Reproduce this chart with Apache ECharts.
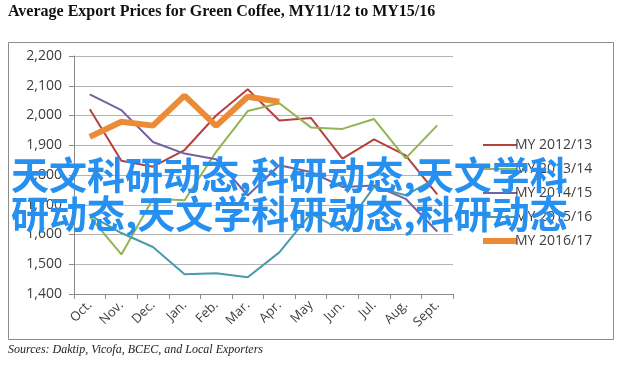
<!DOCTYPE html>
<html>
<head>
<meta charset="utf-8">
<script src="https://cdn.jsdelivr.net/npm/echarts@6/dist/echarts.min.js"></script>
<style>
html,body{margin:0;padding:0;background:#fff;}
#c{width:628px;height:372px;}
</style>
</head>
<body>
<div id="c"></div>
<script>
var months = ['Oct.','Nov.','Dec.','Jan.','Feb.','Mar.','Apr.','May','Jun.','Jul.','Aug.','Sept.'];
var yTicks = [1400,1500,1600,1700,1800,1900,2000,2100,2200];
var seriesNames = ['MY 2012/13','MY 2013/14','MY 2014/15','MY 2015/16','MY 2016/17'];
var my1213 = [2021,1848,1828,1884,2000,2088,1983,1992,1855,1920,1866,1735];
var my1314 = [1660,1533,1720,1715,1878,2015,2041,1960,1955,1988,1856,1967];
var my1415 = [2071,2018,1911,1872,1853,1731,1833,1810,1760,1765,1720,1610];
var my1516 = [1665,1605,1558,1466,1470,1456,1540,1670,1613,1760,1732,1790];
var my1617 = [1928,1979,1966,2067,1965,2063,2046];
var titleText = 'Average Export Prices for Green Coffee, MY11/12 to MY15/16';
var sourceText = 'Sources: Daktip, Vicofa, BCEC, and Local Exporters';
var watermark1 = '天文科研动态,科研动态,天文学科';
var watermark2 = '研动态,天文学科研动态,科研动态';

var colors = ['#B4413E','#93B452','#7560A0','#4A9BAA','#EC8A36'];
var allData = [my1213, my1314, my1415, my1516, my1617];

var chart = echarts.init(document.getElementById('c'), null, {renderer:'canvas'});
var series = allData.map(function(d,i){
  return {
    name: seriesNames[i], type:'line', data:d, symbol:'none', smooth:false,
    lineStyle:{color:colors[i], width: i===4 ? 6 : 2},
    itemStyle:{color:colors[i]},
    z: 2 + i
  };
});
var option = {
  animation:false,
  backgroundColor:'#fff',
  color: colors,
  grid:{left:74, right:175, top:56, bottom:78},
  xAxis:{
    type:'category', data:months, boundaryGap:true,
    axisLine:{lineStyle:{color:'#8a8a8a', width:1}},
    axisTick:{show:true, length:5, lineStyle:{color:'#8a8a8a'}},
    axisLabel:{rotate:45, fontFamily:'Open Sans', fontSize:13, color:'#404040', margin:9, interval:0}
  },
  yAxis:{
    type:'value', min:yTicks[0], max:yTicks[yTicks.length-1], interval:100,
    axisLine:{show:true, lineStyle:{color:'#8a8a8a'}},
    axisTick:{show:true, length:5, lineStyle:{color:'#8a8a8a'}},
    splitLine:{lineStyle:{color:'#b4b4b4', width:1}},
    axisLabel:{fontFamily:'Open Sans', fontSize:14, color:'#404040', margin:12,
      formatter:function(v){return v.toLocaleString('en-US');}}
  },
  legend:{
    orient:'vertical', left:478, top:133, itemWidth:34, itemHeight:14, itemGap:10,
    textStyle:{fontFamily:'Open Sans', fontSize:14, color:'#404040', padding:[0,0,0,-7]},
    data: seriesNames.map(function(n,i){
      return {name:n, icon: i===4 ? 'path://M0,4 L34,4 L34,10 L0,10 Z' : 'path://M0,6 L34,6 L34,8 L0,8 Z'};
    })
  },
  series: series,
  graphic:[
    {type:'rect', shape:{x:8.5, y:42.5, width:605, height:297}, style:{fill:null, stroke:'#8c8c8c', lineWidth:1}, z:-1, silent:true},
    {type:'text', left:8, top:4, style:{text:titleText, font:'bold 16px "Liberation Serif"', fill:'#111'}},
    {type:'text', left:8, top:344, style:{text:sourceText, font:'italic 12px "Liberation Serif"', fill:'#222'}},
    {type:'text', left:11, top:156, z:100, style:{text:watermark1, font:'bold 38px "Noto Sans CJK SC"', fill:'#2590F0'}},
    {type:'text', left:11, top:195, z:100, style:{text:watermark2, font:'bold 38px "Noto Sans CJK SC"', fill:'#2590F0'}}
  ]
};
chart.setOption(option);
</script>
</body>
</html>
